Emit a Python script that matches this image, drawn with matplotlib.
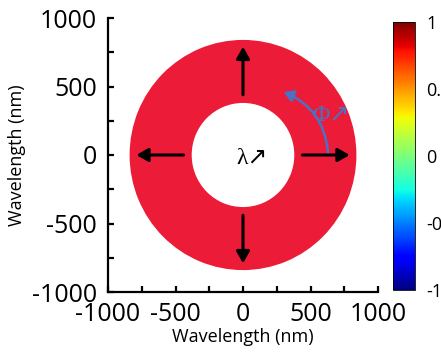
import numpy as np
import matplotlib
matplotlib.use('Agg')
import matplotlib.pyplot as plt
from matplotlib.patches import Wedge, FancyArrowPatch
from matplotlib.cm import ScalarMappable
from matplotlib.colors import Normalize

# data
r_inner = 380.0   # nm
r_outer = 840.0   # nm
ring_color = '#ec1b38'
arrow_dirs = [(0, 1), (0, -1), (-1, 0), (1, 0)]
arrow_r = [440.0, 790.0]
x_ticks = [-1000, -500, 0, 500, 1000]
y_ticks = [-1000, -500, 0, 500, 1000]
cbar_ticks = [-1, -0.5, 0, 0.5, 1]
phi_start = (630, 20)
phi_end = (300, 460)

plt.rcParams['font.family'] = ['Open Sans', 'DejaVu Sans']
plt.rcParams['axes.unicode_minus'] = False

fig = plt.figure(figsize=(4.41, 3.58), dpi=100)
ax = fig.add_axes([108/441, 66/358, 270/441, 274/358])

ring = Wedge((0, 0), r_outer, 0, 360, width=r_outer - r_inner,
             facecolor=ring_color, edgecolor='none')
ax.add_patch(ring)

for dx, dy in arrow_dirs:
    a = FancyArrowPatch((dx * arrow_r[0], dy * arrow_r[0]),
                        (dx * arrow_r[1], dy * arrow_r[1]),
                        arrowstyle='-|>,head_length=7,head_width=4',
                        color='black', lw=2.2, shrinkA=0, shrinkB=0)
    ax.add_patch(a)

# blue curved arrow for phi
phi = FancyArrowPatch(phi_start, phi_end, connectionstyle='arc3,rad=0.3',
                      arrowstyle='-|>,head_length=6,head_width=3.5',
                      color='#4a72c4', lw=1.8, shrinkA=0, shrinkB=0)
ax.add_patch(phi)
ax.text(650, 290, '\u03a6\u2197', color='#4a72c4', fontsize=17,
        family=['Liberation Serif', 'DejaVu Sans'], ha='center', va='center')
ax.text(70, -25, '\u03bb\u2197', color='black', fontsize=17,
        family=['Liberation Serif', 'DejaVu Sans'], ha='center', va='center')

ax.set_xlim(-1000, 1000)
ax.set_ylim(-1000, 1000)
ax.set_xticks(x_ticks)
ax.set_yticks(y_ticks)
ax.set_xticks(np.arange(-750, 1000, 500), minor=True)
ax.set_yticks(np.arange(-750, 1000, 500), minor=True)
ax.spines['top'].set_visible(False)
ax.spines['right'].set_visible(False)
for s in ['left', 'bottom']:
    ax.spines[s].set_linewidth(1.6)
ax.tick_params(which='both', direction='in', width=1.6, length=4)
ax.tick_params(axis='y', which='major', labelsize=18, pad=8)
ax.tick_params(axis='x', which='major', labelsize=18, pad=7)
ax.set_xlabel('Wavelength (nm)', fontsize=13, labelpad=1)
ax.set_ylabel('Wavelength (nm)', fontsize=13, labelpad=4)

cax = fig.add_axes([393/441, 68/358, 22/441, 268/358])
sm = ScalarMappable(norm=Normalize(-1, 1), cmap='jet')
cb = fig.colorbar(sm, cax=cax, ticks=cbar_ticks)
cb.set_ticklabels(['-1', '-0.5', '0', '0.5', '1'])
cb.ax.tick_params(length=0, labelsize=13, pad=8)
cb.outline.set_linewidth(0.6)

fig.savefig('out.png', dpi=100)
